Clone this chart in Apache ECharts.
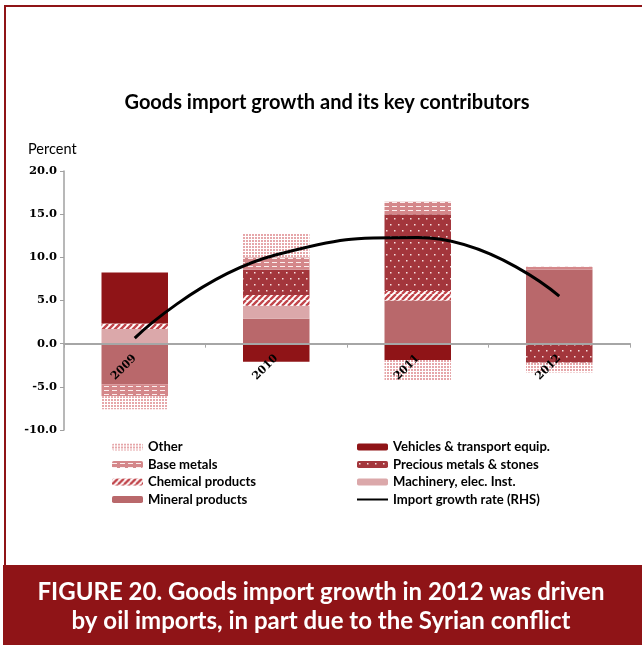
<!DOCTYPE html>
<html>
<head>
<meta charset="utf-8">
<script src="https://cdn.jsdelivr.net/npm/echarts@6/dist/echarts.min.js"></script>
<style>
  html, body { margin: 0; padding: 0; background: #fff; }
  #chart { width: 642px; height: 646px; }
</style>
</head>
<body>
<div id="chart"></div>
<script>
// Categories and contributions (percentage points) to goods import growth
const years = ['2009', '2010', '2011', '2012'];
const mineral = [-4.7, 2.9, 5.0, 8.6];
const machinery = [1.7, 1.5, 0, 0];
const chemical = [0.65, 1.25, 1.1, 0];
const precious = [0, 2.9, 8.9, -2.2];
const baseMetals = [-1.4, 1.45, 1.45, 0.3];
const vehicles = [5.9, -2.1, -1.9, 0];
const other = [-1.5, 2.7, -2.35, -1.15];
const importGrowth = [0.65, 10.3, 12.3, 5.5];
const yTicks = { min: -10, max: 20, step: 5 };

const DARK = '#8f1417';
const W = 642, H = 646;
const grid = { left: 64, right: 12, top: 171, bottom: 216 };
// the category axis sits on the zero line, inside the plot
const plotH = H - grid.top - grid.bottom;
const zeroLift = plotH * (0 - yTicks.min) / (yTicks.max - yTicks.min);

// Small repeating tiles used as fill patterns
function tile(w, h, draw) {
  const c = document.createElement('canvas');
  c.width = w; c.height = h;
  const g = c.getContext('2d');
  draw(g, w, h);
  return { image: c, repeat: 'repeat' };
}

const otherFill = tile(3, 3, (g) => {
  g.fillStyle = '#ffffff'; g.fillRect(0, 0, 3, 3);
  g.fillStyle = '#e6a7aa'; g.fillRect(0, 0, 2, 2);
});
const baseFill = tile(8, 4, (g) => {
  g.fillStyle = '#d4878a'; g.fillRect(0, 0, 8, 4);
  g.fillStyle = '#fbeeee'; g.fillRect(0, 2, 5, 1);
});
const chemFill = tile(6, 6, (g) => {
  g.fillStyle = '#ffffff'; g.fillRect(0, 0, 6, 6);
  g.strokeStyle = '#c1454b'; g.lineWidth = 2.4;
  g.beginPath();
  for (let k = -12; k <= 12; k += 6) { g.moveTo(k, 6); g.lineTo(k + 6, 0); }
  g.stroke();
});
const preciousFill = tile(8, 12, (g) => {
  g.fillStyle = '#a3363c'; g.fillRect(0, 0, 8, 12);
  g.fillStyle = '#f5dede';
  g.fillRect(2, 2, 1.5, 1.5);
  g.fillRect(6, 8, 1.5, 1.5);
});

const chart = echarts.init(document.getElementById('chart'), null, { renderer: 'canvas' });

function barSeries(name, data, color) {
  return {
    name, type: 'bar', stack: 'total', data,
    barWidth: '47%',
    itemStyle: { color },
    emphasis: { disabled: true }
  };
}

const legendText = { fontFamily: 'Lato', fontWeight: 'bold', fontSize: 13.1, color: '#000', lineHeight: 14 };
const legendBase = {
  orient: 'vertical', top: 435, padding: 5,
  itemWidth: 31, itemHeight: 7, itemGap: 3.5, itemTextGap: 4,
  textStyle: legendText, selectedMode: false
};

chart.setOption({
  animation: false,
  grid,
  xAxis: {
    type: 'category', data: years,
    axisLine: { onZero: false, lineStyle: { color: '#a6a6a6', width: 2 } },
    offset: -zeroLift,
    axisTick: { show: true, length: 4, lineStyle: { color: '#a6a6a6' } },
    axisLabel: {
      rotate: 45, margin: 13,
      fontFamily: 'DejaVu Serif', fontWeight: 'bold', fontSize: 11, color: '#000'
    },
    z: 5
  },
  yAxis: [{
    type: 'value', min: yTicks.min, max: yTicks.max, interval: yTicks.step,
    axisLine: { show: true, lineStyle: { color: '#a0a0a0', width: 1.5 } },
    axisTick: { show: true, length: 4, lineStyle: { color: '#a0a0a0' } },
    splitLine: { show: false },
    axisLabel: {
      margin: 7, formatter: (v) => v.toFixed(1),
      fontFamily: 'DejaVu Serif', fontWeight: 'bold', fontSize: 11.5, color: '#000'
    }
  }, {
    type: 'value', min: yTicks.min, max: yTicks.max, show: false
  }],
  legend: [Object.assign({}, legendBase, {
    left: 107,
    data: ['Other', 'Base metals', 'Chemical products', 'Mineral products']
  }), Object.assign({}, legendBase, {
    left: 351,
    data: ['Vehicles & transport equip.', 'Precious metals & stones', 'Machinery, elec. Inst.',
      { name: 'Import growth rate (RHS)', itemStyle: { opacity: 0 } }]
  })],
  series: [
    barSeries('Mineral products', mineral, '#b9686b'),
    barSeries('Machinery, elec. Inst.', machinery, '#dba8aa'),
    barSeries('Chemical products', chemical, chemFill),
    barSeries('Precious metals & stones', precious, preciousFill),
    barSeries('Base metals', baseMetals, baseFill),
    barSeries('Vehicles & transport equip.', vehicles, DARK),
    barSeries('Other', other, otherFill),
    {
      name: 'Import growth rate (RHS)', type: 'line', yAxisIndex: 1,
      data: importGrowth, smooth: 0.5, symbol: 'none',
      lineStyle: { color: '#000', width: 3 },
      itemStyle: { color: '#000' },
      z: 10
    }
  ],
  graphic: [
    // frame
    { type: 'rect', shape: { x: 4, y: 5, width: W - 4, height: 2 }, style: { fill: DARK } },
    { type: 'rect', shape: { x: 4, y: 5, width: 2, height: 562 }, style: { fill: DARK } },
    // caption band
    { type: 'rect', shape: { x: 3, y: 565, width: W - 3, height: 80 }, style: { fill: DARK } },
    {
      type: 'text', x: 321, y: 592,
      style: {
        text: 'FIGURE 20. Goods import growth in 2012 was driven',
        fill: '#fff', font: 'bold 24px Lato', align: 'center', verticalAlign: 'middle'
      }
    },
    {
      type: 'text', x: 321, y: 621,
      style: {
        text: 'by oil imports, in part due to the Syrian conflict',
        fill: '#fff', font: 'bold 24px Lato', align: 'center', verticalAlign: 'middle'
      }
    },
    {
      type: 'text', x: 327, y: 103,
      style: {
        text: 'Goods import growth and its key contributors',
        fill: '#000', font: 'bold 20px Lato', align: 'center', verticalAlign: 'middle'
      }
    },
    {
      type: 'text', x: 28, y: 149,
      style: { text: 'Percent', fill: '#000', font: '14.5px Lato', verticalAlign: 'middle' }
    }
  ]
});
</script>
</body>
</html>
